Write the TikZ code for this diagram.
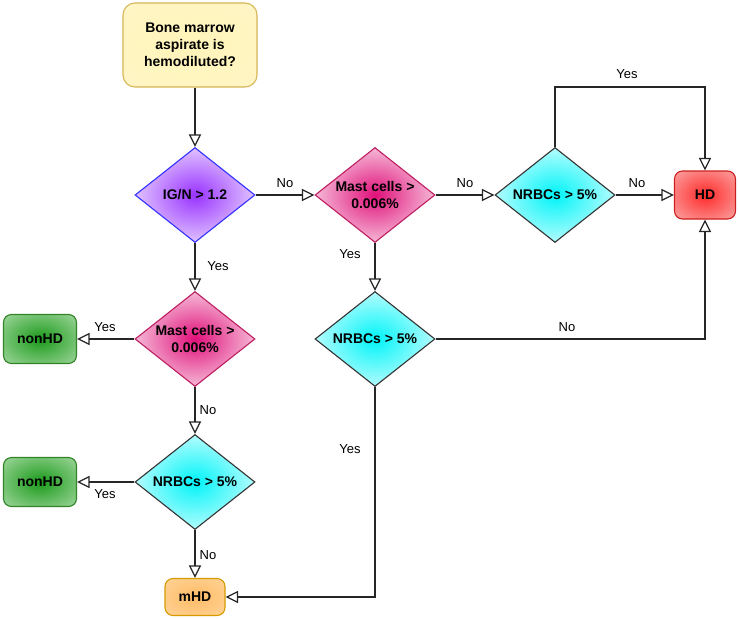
\documentclass[tikz,border=0pt]{standalone}
\usepackage{fontspec}
\setmainfont{Liberation Sans}
\usetikzlibrary{shapes.geometric,arrows.meta}
\definecolor{purpC}{HTML}{9933FF}
\definecolor{purpE}{HTML}{F6F0FF}
\definecolor{magC}{HTML}{E0107A}
\definecolor{magE}{HTML}{FCEEF4}
\definecolor{cyanC}{HTML}{00F4F8}
\definecolor{cyanE}{HTML}{ECFFFF}
\definecolor{redC}{HTML}{FF2A2A}
\definecolor{redE}{HTML}{F8CECC}
\definecolor{grnC}{HTML}{1A9A1A}
\definecolor{grnE}{HTML}{CDEBC8}
\definecolor{orgC}{HTML}{FFBB66}
\definecolor{orgE}{HTML}{FFDDAA}
\definecolor{ylwC}{HTML}{FFF4B8}
\definecolor{ylwE}{HTML}{FFF6CC}
\pgfdeclareradialshading{purpsh}{\pgfpointorigin}{color(0bp)=(purpC);color(33bp)=(purpE);color(50bp)=(purpE)}
\pgfdeclareradialshading{magsh}{\pgfpointorigin}{color(0bp)=(magC);color(33bp)=(magE);color(50bp)=(magE)}
\pgfdeclareradialshading{cyansh}{\pgfpointorigin}{color(0bp)=(cyanC);color(33bp)=(cyanE);color(50bp)=(cyanE)}
\pgfdeclareradialshading{redsh}{\pgfpointorigin}{color(0bp)=(redC);color(48bp)=(redE);color(70bp)=(redE)}
\pgfdeclareradialshading{grnsh}{\pgfpointorigin}{color(0bp)=(grnC);color(48bp)=(grnE);color(70bp)=(grnE)}
\pgfdeclareradialshading{orgsh}{\pgfpointorigin}{color(0bp)=(orgC);color(50bp)=(orgE);color(70bp)=(orgE)}
\pgfdeclareradialshading{ylwsh}{\pgfpointorigin}{color(0bp)=(ylwC);color(50bp)=(ylwE);color(70bp)=(ylwE)}
\begin{document}
\begin{tikzpicture}[x=1pt,y=-1pt,
  txt/.style={font=\fontsize{14}{17}\selectfont\bfseries, align=center},
  dia/.style={diamond, minimum width=120pt, minimum height=95pt, inner sep=0pt, line width=1.1pt, shade},
  box/.style={rectangle, rounded corners=8pt, inner sep=0pt, line width=1.1pt, shade, txt},
  conn/.style={line width=1.2pt, draw=black!85, -{Triangle[open,length=12.5pt,width=12pt,fill=white]}},
  lab/.style={font=\fontsize{13}{15}\selectfont}
]
\useasboundingbox (0,0) rectangle (738,618);

\node[box, shading=ylwsh, draw={rgb,255:red,214;green,182;blue,86}, rounded corners=12pt, minimum width=134pt, minimum height=84pt] (top) at (190,45) {Bone marrow\\aspirate is\\hemodiluted?};

\node[dia, shading=purpsh, draw={rgb,255:red,50;green,50;blue,255}, label={[txt]center:IG/N > 1.2}] (ign) at (195,195) {};
\node[dia, shading=magsh, draw={rgb,255:red,190;green,30;blue,95}, label={[txt]center:Mast cells >\\0.006\%}] (mast1) at (375,195) {};
\node[dia, shading=cyansh, draw=black!80, label={[txt]center:NRBCs > 5\%}] (nrbc1) at (555,195) {};
\node[box, shading=redsh, draw={rgb,255:red,204;green,30;blue,30}, minimum width=61pt, minimum height=48pt] (hd) at (705,195) {HD};

\node[dia, shading=magsh, draw={rgb,255:red,190;green,30;blue,95}, label={[txt]center:Mast cells >\\0.006\%}] (mast2) at (195,339) {};
\node[box, shading=grnsh, draw={rgb,255:red,50;green,130;blue,40}, minimum width=73pt, minimum height=49pt] (nonhd1) at (40,339) {nonHD};
\node[dia, shading=cyansh, draw=black!80, label={[txt]center:NRBCs > 5\%}] (nrbc2) at (375,339) {};

\node[dia, shading=cyansh, draw=black!80, label={[txt]center:NRBCs > 5\%}] (nrbc3) at (195,482) {};
\node[box, shading=grnsh, draw={rgb,255:red,50;green,130;blue,40}, minimum width=73pt, minimum height=49pt] (nonhd2) at (40,482) {nonHD};
\node[box, shading=orgsh, draw={rgb,255:red,215;green,155;blue,0}, minimum width=60pt, minimum height=37pt] (mhd) at (195,597) {mHD};

\coordinate (c1) at (555,87);
\coordinate (c2) at (705,87);
\coordinate (c3) at (705,339);
\coordinate (c4) at (375,597);

\draw[conn] (ign.north |- top.south) -- (ign.north);
\draw[conn] (ign.east) -- (mast1.west);
\draw[conn] (mast1.east) -- (nrbc1.west);
\draw[conn] (nrbc1.east) -- (hd.west);
\draw[conn] (nrbc1.north) -- (c1) -- (c2) -- (hd.north);
\draw[conn] (ign.south) -- (mast2.north);
\draw[conn] (mast1.south) -- (nrbc2.north);
\draw[conn] (mast2.west) -- (nonhd1.east);
\draw[conn] (mast2.south) -- (nrbc3.north);
\draw[conn] (nrbc3.west) -- (nonhd2.east);
\draw[conn] (nrbc3.south) -- (mhd.north);
\draw[conn] (nrbc2.east) -- (c3) -- (hd.south);
\draw[conn] (nrbc2.south) -- (c4) -- (mhd.east);

\node[lab] (l1) at (285,183) {No};
\node[lab] (l2) at (465,183) {No};
\node[lab] (l3) at (637,183) {No};
\node[lab] (l4) at (627,74) {Yes};
\node[lab] (l5) at (218,266) {Yes};
\node[lab] (l6) at (350,254) {Yes};
\node[lab] (l7) at (105,327) {Yes};
\node[lab] (l8) at (208,410) {No};
\node[lab] (l9) at (105,494) {Yes};
\node[lab] (l10) at (208,555) {No};
\node[lab] (l11) at (567,327) {No};
\node[lab] (l12) at (350,449) {Yes};
\end{tikzpicture}
\end{document}
